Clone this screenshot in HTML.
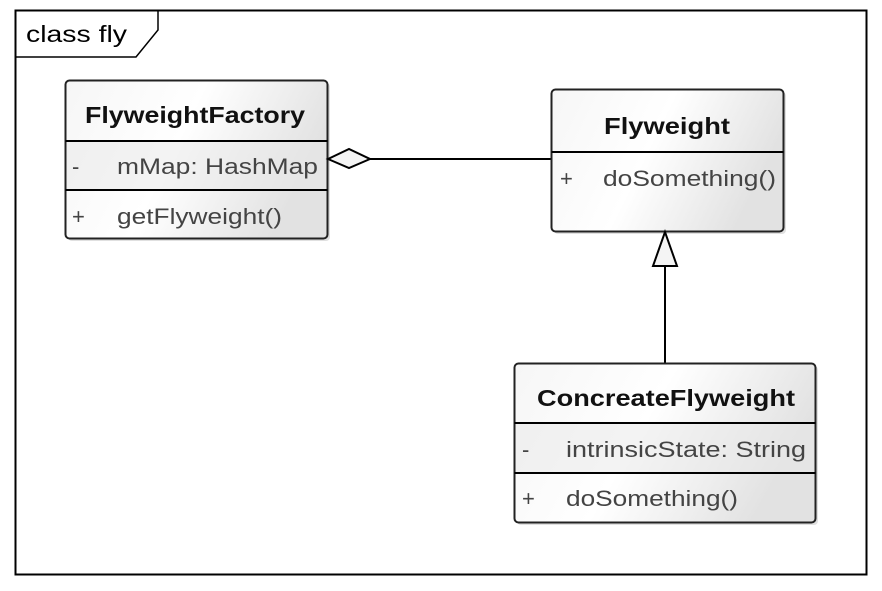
<!DOCTYPE html>
<html><head><style>
body{margin:0;background:#fff;}
</style></head><body>
<svg width="882" height="586" xmlns="http://www.w3.org/2000/svg" font-family="Liberation Sans, Arial, sans-serif">
<defs>
<linearGradient id="g" x1="0" y1="0" x2="1" y2="0.3">
<stop offset="0" stop-color="#f6f6f6"/><stop offset="0.5" stop-color="#ffffff"/><stop offset="1" stop-color="#e2e2e2"/>
</linearGradient>
</defs>
<rect width="882" height="586" fill="#fff"/>
<rect x="15.5" y="10.5" width="851" height="564" fill="none" stroke="#000" stroke-width="2"/>
<polyline points="15.5,57 136,57 158,30 158,10.5" fill="none" stroke="#000" stroke-width="1.5"/>
<text x="26" y="42" font-size="23" fill="#000" textLength="101" lengthAdjust="spacingAndGlyphs">class fly</text>

<!-- FlyweightFactory -->
<rect x="68" y="83" width="262" height="158" rx="4" fill="#ccc" opacity="0.6"/>
<rect x="65.5" y="80.5" width="262" height="158" rx="4" fill="url(#g)" stroke="#222" stroke-width="2"/>
<rect x="66.5" y="142" width="260" height="48" fill="#e8e8e8" opacity="0.5"/>
<line x1="65.5" y1="141" x2="327.5" y2="141" stroke="#000" stroke-width="2"/>
<line x1="65.5" y1="190" x2="327.5" y2="190" stroke="#000" stroke-width="2"/>
<text x="85" y="123" font-size="23" font-weight="bold" fill="#111" textLength="220" lengthAdjust="spacingAndGlyphs">FlyweightFactory</text>
<text x="72" y="174" font-size="22" fill="#444">-</text>
<text x="117" y="174" font-size="22" fill="#444" textLength="201" lengthAdjust="spacingAndGlyphs">mMap: HashMap</text>
<text x="72" y="224" font-size="22" fill="#444">+</text>
<text x="117" y="224" font-size="22" fill="#444" textLength="165" lengthAdjust="spacingAndGlyphs">getFlyweight()</text>

<!-- aggregation -->
<line x1="370" y1="159" x2="551" y2="159" stroke="#000" stroke-width="2"/>
<polygon points="328,159 349,149 370,159 349,168" fill="#f4f4f4" stroke="#000" stroke-width="2"/>

<!-- Flyweight -->
<rect x="554" y="92" width="232" height="142" rx="4" fill="#ccc" opacity="0.6"/>
<rect x="551.5" y="89.5" width="232" height="142" rx="4" fill="url(#g)" stroke="#222" stroke-width="2"/>
<line x1="551.5" y1="152" x2="783.5" y2="152" stroke="#000" stroke-width="2"/>
<text x="604" y="134" font-size="23" font-weight="bold" fill="#111" textLength="126" lengthAdjust="spacingAndGlyphs">Flyweight</text>
<text x="560" y="186" font-size="22" fill="#444">+</text>
<text x="603" y="186" font-size="22" fill="#444" textLength="173" lengthAdjust="spacingAndGlyphs">doSomething()</text>

<!-- generalization -->
<line x1="665" y1="266" x2="665" y2="363" stroke="#000" stroke-width="2"/>
<polygon points="665,232 653,266 677,266" fill="#f4f4f4" stroke="#000" stroke-width="2"/>

<!-- ConcreateFlyweight -->
<rect x="517" y="366" width="301" height="159" rx="4" fill="#ccc" opacity="0.6"/>
<rect x="514.5" y="363.5" width="301" height="159" rx="4" fill="url(#g)" stroke="#222" stroke-width="2"/>
<rect x="515.5" y="424" width="299" height="49" fill="#e8e8e8" opacity="0.5"/>
<line x1="514.5" y1="423" x2="815.5" y2="423" stroke="#000" stroke-width="2"/>
<line x1="514.5" y1="473" x2="815.5" y2="473" stroke="#000" stroke-width="2"/>
<text x="537" y="406" font-size="23" font-weight="bold" fill="#111" textLength="258" lengthAdjust="spacingAndGlyphs">ConcreateFlyweight</text>
<text x="522" y="457" font-size="22" fill="#444">-</text>
<text x="566" y="457" font-size="22" fill="#444" textLength="240" lengthAdjust="spacingAndGlyphs">intrinsicState: String</text>
<text x="522" y="506" font-size="22" fill="#444">+</text>
<text x="566" y="506" font-size="22" fill="#444" textLength="172" lengthAdjust="spacingAndGlyphs">doSomething()</text>
</svg>
</body></html>
